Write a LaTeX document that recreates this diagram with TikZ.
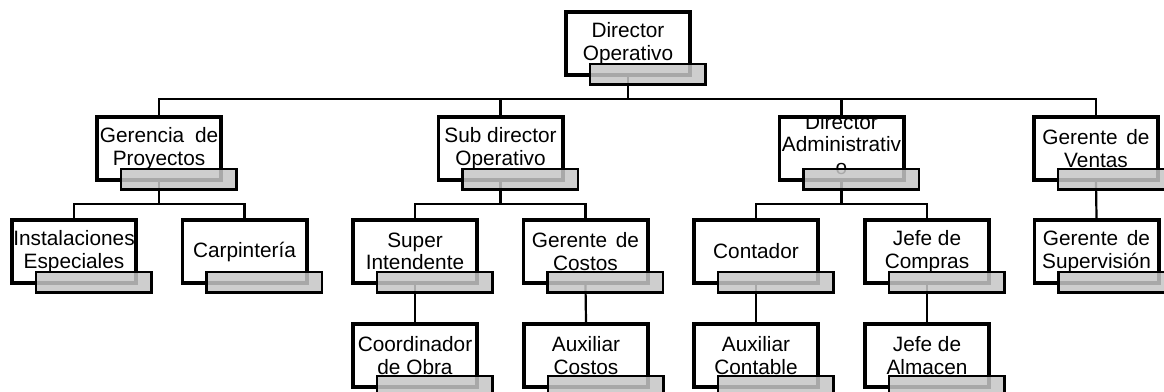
\documentclass[tikz,border=0pt]{standalone}
\usepackage{fontspec}
\setmainfont{Liberation Sans}
\usetikzlibrary{backgrounds}
\tikzset{
  x=1pt, y=-1pt,
  orgbox/.style={draw=black, line width=3.6pt, fill=white,
    minimum width=124.4pt, minimum height=63.4pt, inner sep=0pt},
  orgtext/.style={align=center, inner sep=0pt,
    font=\fontsize{20.8}{22.5}\selectfont},
  shadowbar/.style={draw=black, line width=2.3pt,
    fill={rgb,255:red,198;green,198;blue,198}, fill opacity=0.85},
  conn/.style={draw=black, line width=2.2pt},
}
% one position of the chart: framed box, its label clipped to the frame,
% and the grey bar laid over the lower right corner
\newcommand\orgunit[5][0pt]{%
  \node[orgbox] (#2) at (#3,#4) {};
  \begin{scope}
    \clip ([xshift=1.8pt,yshift=-1.8pt]#2.north west)
      rectangle ([xshift=-1.8pt,yshift=1.8pt]#2.south east);
    \node[orgtext] (#2-label) at ([yshift=#1]#2.center) {#5};
  \end{scope}
  \draw[shadowbar] ([xshift=26pt,yshift=13pt]#2.south west)
    rectangle ([xshift=13.5pt,yshift=-7.5pt]#2.south east);
}
\begin{document}
\begin{tikzpicture}
\useasboundingbox (0,0) rectangle (1164,391);

% level 1
\orgunit{dop}{628}{43.5}{Director\\Operativo}

% level 2
\orgunit{gp}{159}{148.5}{Gerencia\hspace{5pt} de\\Proyectos}
\orgunit{sdo}{500.5}{148.5}{Sub director\\Operativo}
\orgunit[4pt]{dad}{841.5}{148.5}{Director\\Administrativ\\o}
\orgunit{gv}{1096}{148.5}{Gerente\hspace{3pt} de\\Ventas}

% level 3
\orgunit{ie}{74}{251.5}{Instalaciones\\Especiales}
\orgunit{car}{244.5}{251.5}{Carpintería}
\orgunit{si}{415}{251.5}{Super\\Intendente}
\orgunit{gc}{585.5}{251.5}{Gerente\hspace{3pt} de\\Costos}
\orgunit{cont}{756}{251.5}{Contador}
\orgunit{jc}{927}{251.5}{Jefe de\\Compras}
\orgunit{gs}{1096.5}{251.5}{Gerente\hspace{3pt} de\\Supervisión}

% level 4
\orgunit{co}{415}{355.5}{Coordinador\\de Obra}
\orgunit{ac}{586}{355.5}{Auxiliar\\Costos}
\orgunit{acon}{756}{355.5}{Auxiliar\\Contable}
\orgunit{ja}{927}{355.5}{Jefe de\\Almacen}

% connectors, kept underneath the boxes
\begin{scope}[on background layer]
  \fill[white] (0,0) rectangle (1164,391);
  \coordinate (bus0) at (628,99);
  \draw[conn] (dop.south) -- (bus0);
  \foreach \c in {gp,sdo,dad,gv} \draw[conn] (bus0) -| (\c.north);

  \coordinate (bus1) at (159,204);
  \draw[conn] (gp.south) -- (bus1);
  \foreach \c in {ie,car} \draw[conn] (bus1) -| (\c.north);

  \coordinate (bus2) at (500.5,204);
  \draw[conn] (sdo.south) -- (bus2);
  \foreach \c in {si,gc} \draw[conn] (bus2) -| (\c.north);

  \coordinate (bus3) at (841.5,204);
  \draw[conn] (dad.south) -- (bus3);
  \foreach \c in {cont,jc} \draw[conn] (bus3) -| (\c.north);

  \draw[conn] (gv.south) -- (gs.north);
  \draw[conn] (si.south) -- (co.north);
  \draw[conn] (gc.south) -- (ac.north);
  \draw[conn] (cont.south) -- (acon.north);
  \draw[conn] (jc.south) -- (ja.north);
\end{scope}
\end{tikzpicture}
\end{document}
